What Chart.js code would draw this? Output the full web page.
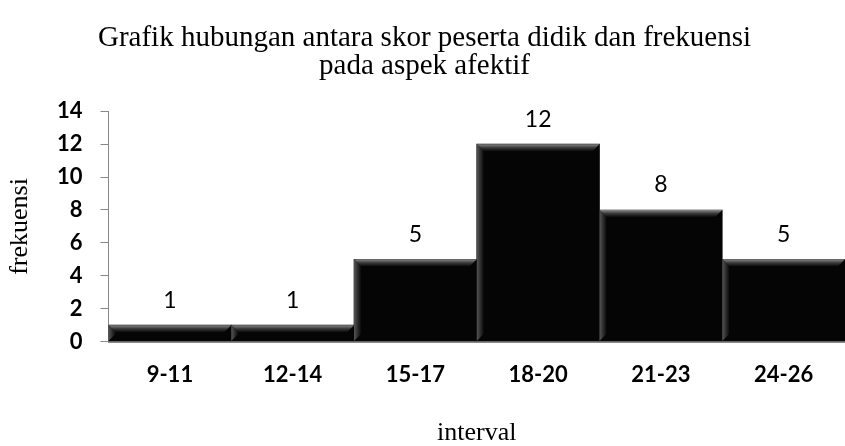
<!DOCTYPE html>
<html>
<head>
<meta charset="utf-8">
<script src="https://cdn.jsdelivr.net/npm/chart.js@4.4.1/dist/chart.umd.min.js"></script>
<style>
  html, body { margin: 0; padding: 0; background: #fff; }
  #wrap { width: 845px; height: 446px; }
</style>
</head>
<body>
<div id="wrap"><canvas id="grafik"></canvas></div>
<script>
var intervals = ['9-11', '12-14', '15-17', '18-20', '21-23', '24-26'];
var frekuensi = [1, 1, 5, 12, 8, 5];
var judul = ['Grafik hubungan antara skor peserta didik dan frekuensi', 'pada aspek afektif'];

// bevel on top and left edge of each bar
var bevelPlugin = {
    id: 'bevel',
    afterDatasetsDraw: function (chart) {
        var ctx = chart.ctx;
        var meta = chart.getDatasetMeta(0);
        ctx.save();
        meta.data.forEach(function (bar) {
            var left = bar.x - bar.width / 2;
            var right = bar.x + bar.width / 2;
            var top = bar.y;
            var bottom = bar.base;
            var b = 7;
            var g = ctx.createLinearGradient(0, top, 0, top + b);
            g.addColorStop(0, '#8a8a8a');
            g.addColorStop(0.5, '#3a3a3a');
            g.addColorStop(1, '#0a0a0a');
            ctx.fillStyle = g;
            ctx.beginPath();
            ctx.moveTo(left, top);
            ctx.lineTo(right, top);
            ctx.lineTo(right - b, top + b);
            ctx.lineTo(left + b, top + b);
            ctx.closePath();
            ctx.fill();
            var g2 = ctx.createLinearGradient(left, 0, left + b, 0);
            g2.addColorStop(0, '#555');
            g2.addColorStop(1, '#0a0a0a');
            ctx.fillStyle = g2;
            ctx.beginPath();
            ctx.moveTo(left, top);
            ctx.lineTo(left + b, top + b);
            ctx.lineTo(left + b, bottom - b);
            ctx.lineTo(left, bottom);
            ctx.closePath();
            ctx.fill();
        });
        ctx.restore();
    }
};

// value above each bar
var labelPlugin = {
    id: 'nilai',
    afterDatasetsDraw: function (chart) {
        var ctx = chart.ctx;
        var meta = chart.getDatasetMeta(0);
        ctx.save();
        ctx.fillStyle = '#000';
        ctx.font = '23px Lato';
        ctx.textAlign = 'center';
        ctx.textBaseline = 'middle';
        meta.data.forEach(function (bar, i) {
            ctx.fillText(frekuensi[i], bar.x, bar.y - 25);
        });
        ctx.restore();
    }
};

new Chart(document.getElementById('grafik'), {
    type: 'bar',
    data: {
        labels: intervals,
        datasets: [{
            data: frekuensi,
            backgroundColor: '#050505',
            borderWidth: 0,
            barPercentage: 1,
            categoryPercentage: 1
        }]
    },
    options: {
        responsive: true,
        maintainAspectRatio: false,
        animation: false,
        layout: { padding: { left: 4, right: 0, top: 0, bottom: 0 } },
        plugins: {
            legend: { display: false },
            tooltip: { enabled: false },
            title: {
                display: true,
                text: judul,
                color: '#000',
                font: { family: 'Liberation Serif', size: 29, weight: 'normal', lineHeight: 0.97 },
                padding: { top: 24, bottom: 31 }
            }
        },
        scales: {
            x: {
                grid: { display: false, drawTicks: false },
                border: { color: '#888', width: 2 },
                ticks: {
                    color: '#000',
                    padding: 20,
                    font: { family: 'Lato', size: 22, weight: 'bold' }
                },
                title: {
                    display: true,
                    text: 'interval',
                    color: '#000',
                    font: { family: 'Liberation Serif', size: 26, lineHeight: 1.0 },
                    padding: { top: 12, bottom: 0 }
                }
            },
            y: {
                min: 0,
                max: 14,
                grid: { drawOnChartArea: false, tickLength: 8, color: '#888' },
                border: { color: '#888', width: 1 },
                ticks: {
                    stepSize: 2,
                    color: '#000',
                    padding: 18,
                    font: { family: 'Lato', size: 22, weight: 'bold' }
                },
                title: {
                    display: true,
                    text: 'frekuensi',
                    color: '#000',
                    font: { family: 'Liberation Serif', size: 26, lineHeight: 1.0 },
                    padding: { top: 3, bottom: 6 }
                }
            }
        }
    },
    plugins: [bevelPlugin, labelPlugin]
});
</script>
</body>
</html>
